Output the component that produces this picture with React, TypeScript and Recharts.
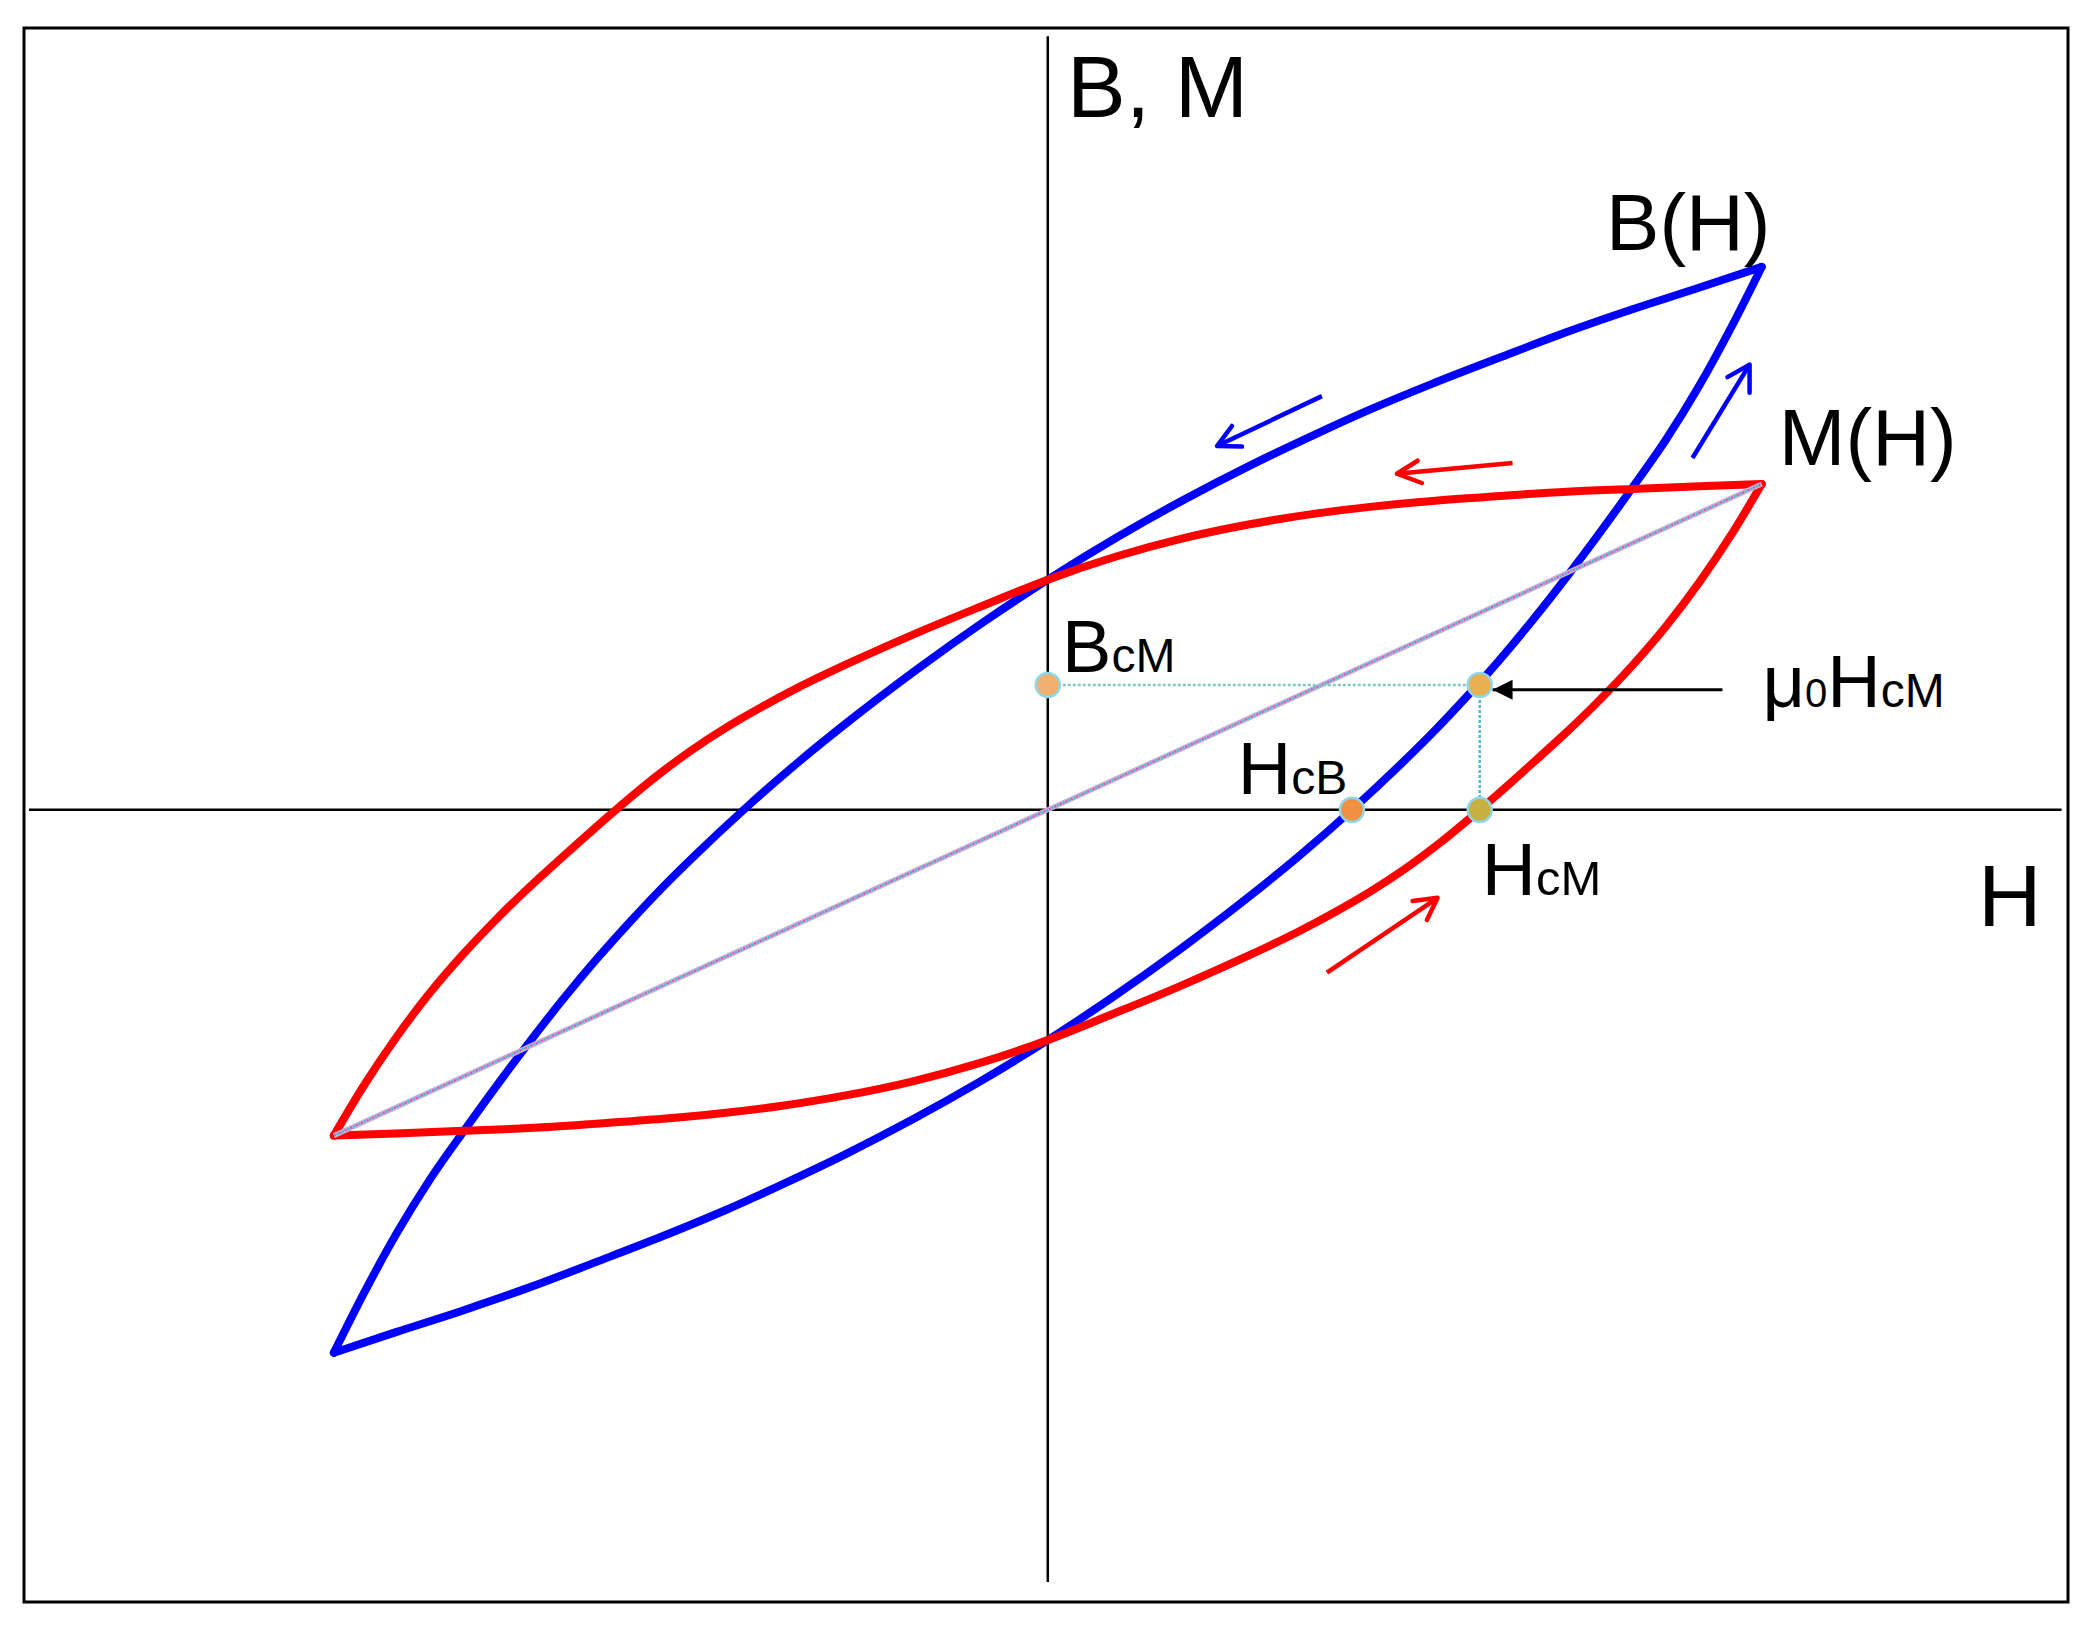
import React from 'react';
import { ComposedChart, Line, Scatter, XAxis, YAxis, ReferenceLine, ReferenceArea } from 'recharts';

type Pt = { h: number; v: number };

// B(H) loop (H: tip = ±10, B: tip = ±10)
const bUpperH = [-10, -9.59, -9.12, -8.66, -8.17, -7.32, -6.79, -6.32, -5.85, -5.39, -4.92, -4.26, -3.52, -2.77, -1.83, -0.91, 0, 0.97, 1.89, 2.83, 3.77, 4.51, 5.39, 6.33, 7.27, 8.19, 9.13, 10];
const bUpperB = [-10, -8.93, -7.8, -6.82, -5.9, -4.38, -3.49, -2.75, -2.06, -1.42, -0.81, 0, 0.85, 1.65, 2.59, 3.45, 4.24, 5.02, 5.7, 6.34, 6.93, 7.37, 7.85, 8.33, 8.8, 9.22, 9.62, 10];
const bLowerH = [-10, -9.13, -8.19, -7.27, -6.33, -5.39, -4.51, -3.77, -2.83, -1.89, -0.97, 0, 0.91, 1.83, 2.77, 3.52, 4.26, 4.92, 5.39, 5.85, 6.32, 6.79, 7.32, 8.17, 8.66, 9.12, 9.59, 10];
const bLowerB = [-10, -9.62, -9.22, -8.8, -8.33, -7.85, -7.37, -6.93, -6.34, -5.7, -5.02, -4.24, -3.45, -2.59, -1.65, -0.85, 0, 0.81, 1.42, 2.06, 2.75, 3.49, 4.38, 5.9, 6.82, 7.8, 8.93, 10];

// M(H) loop
const mUpperH = [-10, -9.59, -9.12, -8.66, -8.19, -7.72, -7.25, -6.79, -6.05, -5.5, -5, -4.5, -4, -3.5, -2.77, -1.83, -0.91, 0, 0.97, 1.89, 2.83, 3.77, 4.51, 5.39, 6.33, 7.27, 8.19, 9.13, 10];
const mUpperM = [-6, -5.1, -4.18, -3.38, -2.66, -2.01, -1.41, -0.86, 0, 0.6, 1.09, 1.52, 1.9, 2.25, 2.71, 3.26, 3.76, 4.24, 4.67, 5.0, 5.26, 5.46, 5.58, 5.69, 5.78, 5.86, 5.91, 5.96, 6];
const mLowerH = [-10, -9.13, -8.19, -7.27, -6.33, -5.39, -4.51, -3.77, -2.83, -1.89, -0.97, 0, 0.91, 1.83, 2.77, 3.5, 4, 4.5, 5, 5.5, 6.05, 6.79, 7.25, 7.72, 8.19, 8.66, 9.12, 9.59, 10];
const mLowerM = [-6, -5.96, -5.91, -5.86, -5.78, -5.69, -5.58, -5.46, -5.26, -5.0, -4.67, -4.24, -3.76, -3.26, -2.71, -2.25, -1.9, -1.52, -1.09, -0.6, 0, 0.86, 1.41, 2.01, 2.66, 3.38, 4.18, 5.1, 6];

// characteristic points
const hMax = 10;
const mMax = 6;
const hcB = 4.26;
const hcM = 6.05;
const bcM = 2.3;

// direction arrows: [tail, tip, wing1, wing2] as [h, v]
const arrowBlueDown = [[3.84, 7.62], [2.37, 6.7], [2.58, 7.07], [2.72, 6.69]];
const arrowRedDown = [[6.51, 6.39], [4.89, 6.19], [5.18, 6.43], [5.24, 6.02]];
const arrowBlueUp = [[9.03, 6.48], [9.83, 8.2], [9.52, 7.97], [9.83, 7.68]];
const arrowRedUp = [[3.91, -3.0], [5.46, -1.62], [5.11, -1.68], [5.31, -2.03]];
const arrowBlack = [[9.45, 2.21], [6.23, 2.21]];

// label anchors (text start, baseline)
const labelAnchors = [
  { id: 'bm', h: 0.27, v: 12.76 },
  { id: 'bh', h: 7.82, v: 10.31 },
  { id: 'mh', h: 10.24, v: 6.35 },
  { id: 'h', h: 13.03, v: -2.14 },
  { id: 'bcm', h: 0.2, v: 2.54 },
  { id: 'hcb', h: 2.66, v: 0.29 },
  { id: 'hcm', h: 6.08, v: -1.57 },
  { id: 'mu', h: 10.01, v: 1.9 },
];

const zip = (hs: number[], vs: number[]): Pt[] => hs.map((h, i) => ({ h, v: vs[i] }));
const pts = (a: number[][]): Pt[] => a.map(([h, v]) => ({ h, v }));

const X_DOMAIN: [number, number] = [-14.34, 14.29];
const Y_DOMAIN: [number, number] = [-14.59, 14.4];
const FONT = '"Liberation Sans", Arial, Helvetica, sans-serif';

const dots = [
  { h: 0, v: bcM, fill: '#f2b070' },
  { h: hcB, v: 0, fill: '#f09040' },
  { h: hcM, v: bcM, fill: '#e8b050' },
  { h: hcM, v: 0, fill: '#c8b040' },
];

const DotShape = (p: any) => (
  <circle cx={p.cx} cy={p.cy} r={12} fill={p.payload.fill} stroke="#8fd6e8" strokeWidth={2.5} />
);

const HeadShape = (p: any) => (
  <polygon points={`${p.cx},${p.cy} ${p.cx + 20},${p.cy - 10} ${p.cx + 20},${p.cy + 10}`} fill="#000" />
);

const LabelShape = (p: any) => {
  const { cx, cy } = p;
  const t = { fontFamily: FONT, fill: '#000' };
  switch (p.payload.id) {
    case 'bm':
      return <text x={cx} y={cy} fontSize={88} {...t}>B, M</text>;
    case 'bh':
      return <text x={cx} y={cy} fontSize={80} {...t}>B(H)</text>;
    case 'mh':
      return <text x={cx} y={cy} fontSize={80} {...t}>M(H)</text>;
    case 'h':
      return <text x={cx} y={cy} fontSize={88} {...t}>H</text>;
    case 'bcm':
      return (
        <text x={cx} y={cy} fontSize={74} {...t}>
          B<tspan fontSize={48}>cM</tspan>
        </text>
      );
    case 'hcb':
      return (
        <text x={cx} y={cy} fontSize={74} {...t}>
          H<tspan fontSize={48}>cB</tspan>
        </text>
      );
    case 'hcm':
      return (
        <text x={cx} y={cy} fontSize={75} {...t}>
          H<tspan fontSize={49}>cM</tspan>
        </text>
      );
    case 'mu':
      return (
        <text x={cx} y={cy} fontSize={74} {...t}>
          μ<tspan fontSize={40}>0</tspan>H<tspan fontSize={48}>cM</tspan>
        </text>
      );
    default:
      return <g />;
  }
};

const curve = (data: Pt[], color: string, key: string) => (
  <Line
    key={key}
    data={data}
    dataKey="v"
    type="monotone"
    stroke={color}
    strokeWidth={8}
    strokeLinecap="round"
    strokeLinejoin="round"
    dot={false}
    activeDot={false}
    isAnimationActive={false}
  />
);

const arrow = (a: number[][], color: string, key: string) => [
  <Line key={key + 's'} data={pts([a[0], a[1]])} dataKey="v" type="linear" stroke={color} strokeWidth={4.5}
    dot={false} activeDot={false} isAnimationActive={false} />,
  <Line key={key + 'h'} data={pts([a[2], a[1], a[3]])} dataKey="v" type="linear" stroke={color} strokeWidth={4.5}
    strokeLinecap="round" strokeLinejoin="round" dot={false} activeDot={false} isAnimationActive={false} />,
];

export default function App() {
  const diag = pts([[-hMax, -mMax], [hMax, mMax]]);
  const horiz = pts([[0, bcM], [hcM, bcM]]);
  const vert = pts([[hcM, bcM], [hcM, 0]]);
  return (
    <div style={{ position: 'absolute', left: 0, top: 0, background: '#fff' }}>
      <ComposedChart width={2088} height={1626} margin={{ top: 28, right: 20, bottom: 24, left: 24 }}>
        <XAxis type="number" dataKey="h" domain={X_DOMAIN} allowDataOverflow hide />
        <YAxis type="number" dataKey="v" domain={Y_DOMAIN} allowDataOverflow hide />
        <ReferenceArea x1={X_DOMAIN[0]} x2={X_DOMAIN[1]} y1={Y_DOMAIN[0]} y2={Y_DOMAIN[1]}
          fill="none" stroke="#000" strokeWidth={3} fillOpacity={0} />
        <ReferenceLine segment={[{ x: -14.27, y: 0 }, { x: 14.2, y: 0 }]} stroke="#000" strokeWidth={2.5} />
        <ReferenceLine segment={[{ x: 0, y: 14.25 }, { x: 0, y: -14.22 }]} stroke="#000" strokeWidth={2.5} />

        {curve(zip(bUpperH, bUpperB), '#0000ff', 'bu')}
        {curve(zip(bLowerH, bLowerB), '#0000ff', 'bl')}
        {curve(zip(mUpperH, mUpperM), '#ff0000', 'mu')}
        {curve(zip(mLowerH, mLowerM), '#ff0000', 'ml')}

        {arrow(arrowBlueDown, '#0000ff', 'a1')}
        {arrow(arrowRedDown, '#ff0000', 'a2')}
        {arrow(arrowBlueUp, '#0000ff', 'a3')}
        {arrow(arrowRedUp, '#ff0000', 'a4')}
        <Line data={pts(arrowBlack)} dataKey="v" type="linear" stroke="#000" strokeWidth={3}
          dot={false} activeDot={false} isAnimationActive={false} />
        <Scatter data={pts([arrowBlack[1]])} shape={HeadShape} isAnimationActive={false} />

        <Line data={diag} dataKey="v" type="linear" stroke="#c4b0cc" strokeWidth={5}
          dot={false} activeDot={false} isAnimationActive={false} />
        <Line data={diag} dataKey="v" type="linear" stroke="#d848d8" strokeWidth={2} strokeDasharray="2 4"
          dot={false} activeDot={false} isAnimationActive={false} />
        <Line data={diag} dataKey="v" type="linear" stroke="#30c0d0" strokeWidth={2} strokeDasharray="2 4" strokeDashoffset={3}
          dot={false} activeDot={false} isAnimationActive={false} />
        <Line data={horiz} dataKey="v" type="linear" stroke="#80c8c4" strokeWidth={2.5} strokeDasharray="3 2"
          dot={false} activeDot={false} isAnimationActive={false} />
        <Line data={vert} dataKey="v" type="linear" stroke="#50b8c8" strokeWidth={2.5} strokeDasharray="3 2"
          dot={false} activeDot={false} isAnimationActive={false} />

        <Scatter data={dots} shape={DotShape} isAnimationActive={false} />
        <Scatter data={labelAnchors} shape={LabelShape} isAnimationActive={false} />
      </ComposedChart>
    </div>
  );
}
